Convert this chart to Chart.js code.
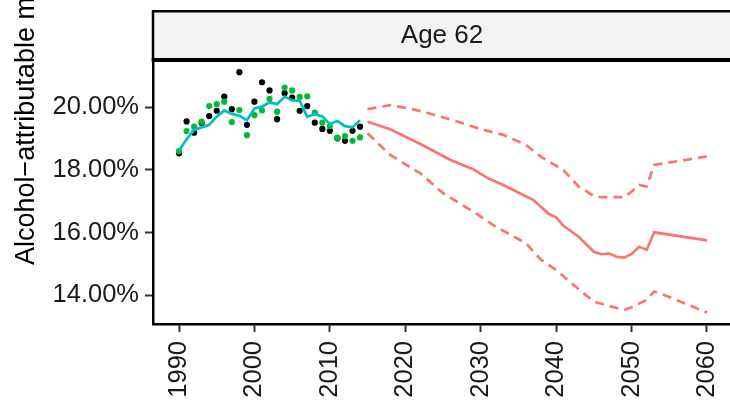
<!DOCTYPE html>
<html>
<head>
<meta charset="utf-8">
<script src="https://cdn.jsdelivr.net/npm/chart.js@4.4.1/dist/chart.umd.min.js"></script>
<style>
  html,body{margin:0;padding:0;background:#fff;overflow:hidden;}
  #wrap{width:730px;height:401px;overflow:hidden;position:relative;}
  #wrap canvas{position:absolute;left:0;top:0;}
</style>
</head>
<body>
<div id="wrap"><canvas id="c" width="780" height="401" style="width:780px;height:401px"></canvas></div>
<script>
/* ── Data (percent) ───────────────────────────── */
const histYears = [1990,1991,1992,1993,1994,1995,1996,1997,1998,1999,2000,2001,2002,
                   2003,2004,2005,2006,2007,2008,2009,2010,2011,2012,2013,2014];
const obsBlack  = [18.53,19.55,19.19,19.50,19.72,19.89,20.34,19.94,21.12,19.44,20.18,20.80,20.54,
                   19.62,20.45,20.31,19.89,20.04,19.51,19.31,19.25,19.01,18.93,19.25,19.38];
const obsGreen  = [18.60,19.24,19.38,19.54,20.04,20.10,20.18,19.53,19.91,19.11,19.75,19.90,20.27,
                   19.86,20.63,20.54,20.33,20.35,19.83,19.51,19.40,19.03,19.08,18.93,19.04];
const fitted    = [18.62,18.98,19.28,19.36,19.44,19.70,19.90,19.79,19.73,19.59,19.96,20.02,20.16,
                   20.10,20.34,20.22,20.21,19.70,19.79,19.71,19.47,19.56,19.40,19.36,19.59];

const projYears = [2015,2018,2022,2026,2029,2031,2033,2037,2039,2040,2041,2043,2045,2046,2047,2048,
                   2049,2050,2051,2052,2053,2060];
const projMid   = [19.54,19.30,18.83,18.32,18.02,17.73,17.52,17.04,16.60,16.49,16.21,15.87,15.39,15.31,
                   15.34,15.23,15.20,15.32,15.55,15.45,16.01,15.75];

const upYears   = [2015,2018,2021,2024,2027,2030,2033,2036,2038,2041,2043,2045,2046,2049,2050,2051,
                   2052,2053,2060];
const projUpper = [19.94,20.07,19.94,19.75,19.54,19.30,19.12,18.80,18.42,17.99,17.47,17.17,17.13,17.13,
                   17.31,17.52,17.47,18.16,18.43];

const loYears   = [2015,2018,2022,2025,2029,2032,2036,2038,2040,2042,2045,2047,2049,2050,2052,2053,
                   2054,2060];
const projLower = [19.17,18.48,17.89,17.26,16.67,16.19,15.66,15.13,14.81,14.39,13.80,13.66,13.53,13.62,
                   13.85,14.12,14.04,13.45];

const xTicks = [1990,2000,2010,2020,2030,2040,2050,2060];
const yTicks = [14,16,18,20];
const stripLabel = 'Age 62';
const yTitle = 'Alcohol\u2212attributable mortality fraction';

const pts = (xs, ys) => xs.map((x,i) => ({x, y:ys[i]}));
const FONT = '"Liberation Sans", Arial, sans-serif';

/* ── Facet strip + y title ───────────────────── */
const stripPlugin = {
  id:'strip',
  afterDraw(chart){
    const {ctx, chartArea:a} = chart;
    ctx.save();
    ctx.fillStyle = '#f2f2f2';
    ctx.fillRect(a.left, 10, chart.width - a.left, a.top - 10);
    ctx.strokeStyle = '#000';
    ctx.lineWidth = 2.5;
    ctx.beginPath();
    ctx.moveTo(a.left, 11.25); ctx.lineTo(chart.width, 11.25);
    ctx.moveTo(a.left, 10); ctx.lineTo(a.left, a.top);
    ctx.stroke();
    ctx.lineWidth = 4;
    ctx.beginPath();
    ctx.moveTo(a.left - 1.25, a.top - 2); ctx.lineTo(chart.width, a.top - 2);
    ctx.stroke();
    ctx.fillStyle = '#1a1a1a';
    ctx.font = '26px ' + FONT;
    ctx.textAlign = 'center';
    ctx.textBaseline = 'middle';
    ctx.fillText(stripLabel, 442, 36);
    // y axis title (cropped at the top like the reference)
    ctx.translate(34, 265);
    ctx.rotate(-Math.PI/2);
    ctx.font = '27px ' + FONT;
    ctx.textAlign = 'left';
    ctx.textBaseline = 'alphabetic';
    ctx.fillStyle = '#000';
    ctx.fillText(yTitle, 0, 0);
    ctx.restore();
  }
};

new Chart(document.getElementById('c'), {
  type:'scatter',
  data:{
    datasets:[
      { label:'fitted', data:pts(histYears, fitted), showLine:true, borderColor:'#00BFC4',
        borderWidth:2.7, pointRadius:0, order:1 },
      { label:'green', data:pts(histYears, obsGreen), backgroundColor:'#00BA38', borderWidth:0,
        pointRadius:3.1, order:2 },
      { label:'black', data:pts(histYears, obsBlack), backgroundColor:'#000', borderWidth:0,
        pointRadius:3.1, order:3 },
      { label:'proj', data:pts(projYears, projMid), showLine:true, borderColor:'#F8766D',
        borderWidth:2.7, pointRadius:0, order:4 },
      { label:'upper', data:pts(upYears, projUpper), showLine:true, borderColor:'#F8766D',
        borderWidth:2.7, borderDash:[9,6], pointRadius:0, order:5 },
      { label:'lower', data:pts(loYears, projLower), showLine:true, borderColor:'#F8766D',
        borderWidth:2.7, borderDash:[9,6], pointRadius:0, order:6 }
    ]
  },
  options:{
    responsive:false, animation:false,
    layout:{ padding:{ top:62, left:0, right:0, bottom:0 } },
    plugins:{ legend:{display:false}, tooltip:{enabled:false} },
    scales:{
      x:{
        type:'linear', min:1986.55, max:2069.15,
        afterBuildTicks:s => { s.ticks = xTicks.map(v=>({value:v})); },
        afterFit:s => { s.height = 77; },
        border:{ display:true, color:'#000', width:2.5 },
        grid:{ drawOnChartArea:false, drawTicks:true, tickLength:8, tickColor:'#333', tickWidth:2 },
        ticks:{ color:'#1a1a1a', font:{family:FONT, size:25.5}, minRotation:90, maxRotation:90,
                padding:9, autoSkip:false, callback:v=>String(v) }
      },
      y:{
        min:13.083, max:21.446,
        afterBuildTicks:s => { s.ticks = yTicks.map(v=>({value:v})); },
        afterFit:s => { s.width = 153; },
        border:{ display:true, color:'#000', width:2.5 },
        grid:{ drawOnChartArea:false, drawTicks:true, tickLength:8, tickColor:'#333', tickWidth:2 },
        ticks:{ color:'#1a1a1a', font:{family:FONT, size:25.5}, padding:6,
                callback:v=>v.toFixed(2)+'%' }
      }
    }
  },
  plugins:[stripPlugin]
});
</script>
</body>
</html>
